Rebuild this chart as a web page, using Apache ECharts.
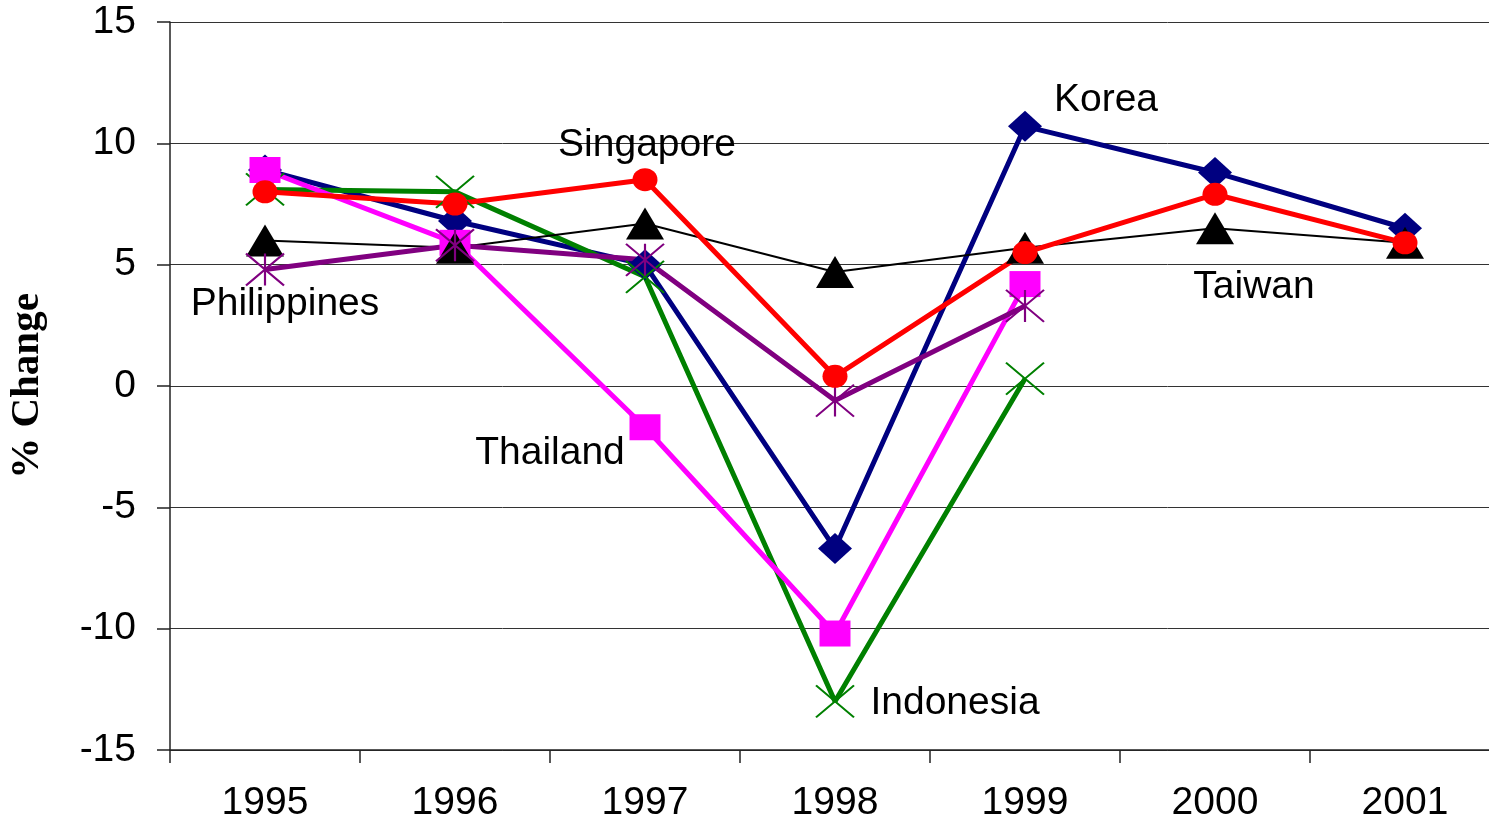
<!DOCTYPE html>
<html><head><meta charset="utf-8">
<script src="https://cdn.jsdelivr.net/npm/echarts@6/dist/echarts.min.js"></script>
<style>html,body{margin:0;padding:0;background:#fff;overflow:hidden}#c{width:1500px;height:819px}</style>
</head><body><div id="c"></div>
<script>
const years = ['1995','1996','1997','1998','1999','2000','2001'];
const korea       = [8.9, 6.8, 5.0, -6.7, 10.7, 8.8, 6.5];
const indonesia   = [8.1, 8.0, 4.5, -13.0, 0.3, null, null];
const thailand    = [8.9, 5.9, -1.7, -10.2, 4.2, null, null];
const taiwan      = [6.0, 5.7, 6.7, 4.7, 5.7, 6.5, 5.9];
const philippines = [4.8, 5.8, 5.2, -0.6, 3.3, null, null];
const singapore   = [8.0, 7.5, 8.5, 0.4, 5.5, 7.9, 5.9];
const yTicks = [-15, -10, -5, 0, 5, 10, 15];

const FONT = 'Liberation Sans, Arial, sans-serif';
const X_PATH = 'path://M0,0L10,10M10,0L0,10';
const AST_PATH = 'path://M0,0L10,10M10,0L0,10M5,0L5,10';

function mk(name, values, color, lw, symbol, size, labelIdx, offset, extra) {
  const data = values.map((v, i) => {
    if (i !== labelIdx) return v;
    return {
      value: v,
      label: {
        show: true, formatter: name, position: 'inside', offset: offset,
        color: '#000', fontSize: 39, fontFamily: FONT
      }
    };
  });
  return Object.assign({
    name: name, type: 'line', data: data, symbol: symbol, symbolSize: size,
    showAllSymbol: true, connectNulls: false, animation: false,
    lineStyle: { color: color, width: lw },
    itemStyle: { color: color, borderColor: color, borderWidth: 0, opacity: 1 },
    emphasis: { disabled: true }
  }, extra || {});
}

const series = [
  mk('Korea', korea, '#000080', 5, 'diamond', [34, 31], 4, [81, -26]),
  mk('Indonesia', indonesia, '#008000', 5, X_PATH, [38, 32], 3, [120, 2],
     { itemStyle: { color: 'rgba(0,0,0,0)', borderColor: '#008000', borderWidth: 2 } }),
  mk('Thailand', thailand, '#FF00FF', 5, 'rect', [31, 26], 2, [-95, 26]),
  mk('Taiwan', taiwan, '#000000', 2, 'triangle', [38, 32], 5, [39, 59]),
  mk('Philippines', philippines, '#800080', 5, AST_PATH, [38, 32], 0, [20, 35],
     { itemStyle: { color: 'rgba(0,0,0,0)', borderColor: '#800080', borderWidth: 2 } }),
  mk('Singapore', singapore, '#FF0000', 5, 'circle', [25, 23], 2, [2, -34])
];

const chart = echarts.init(document.getElementById('c'), null, { renderer: 'canvas' });
chart.setOption({
  backgroundColor: '#fff',
  animation: false,
  grid: { left: 170, top: 22, right: 0, bottom: 69, containLabel: false, outerBoundsMode: 'none' },
  xAxis: {
    type: 'category', data: years, boundaryGap: true,
    axisLine: { onZero: false, lineStyle: { color: '#222', width: 1.5 } },
    axisTick: { show: true, length: 13, inside: false, interval: 0, lineStyle: { color: '#222', width: 1.5 } },
    axisLabel: { color: '#000', fontSize: 39, fontFamily: FONT, margin: 34, interval: 0 },
    splitLine: { show: false }
  },
  yAxis: {
    type: 'value', min: yTicks[0], max: yTicks[yTicks.length - 1], interval: 5,
    name: '% Change', nameLocation: 'middle', nameGap: 122, nameRotate: 90,
    nameTextStyle: { color: '#000', fontSize: 41, fontWeight: 'bold', fontFamily: 'Liberation Serif, Times New Roman, serif' },
    axisLine: { show: true, lineStyle: { color: '#222', width: 1.5 } },
    axisTick: { show: true, length: 13, inside: false, lineStyle: { color: '#222', width: 1.5 } },
    axisLabel: { color: '#000', fontSize: 39, fontFamily: FONT, margin: 34 },
    splitLine: { show: true, lineStyle: { color: '#333', width: 1 } }
  },
  series: series
});
</script>
</body></html>
